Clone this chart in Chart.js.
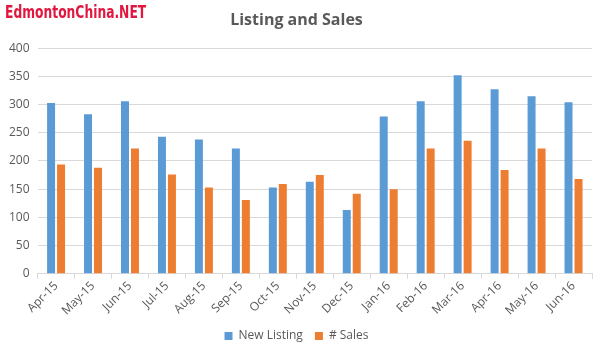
<!DOCTYPE html>
<html>
<head>
<meta charset="utf-8">
<script src="https://cdn.jsdelivr.net/npm/chart.js@4/dist/chart.umd.min.js"></script>
<style>
  html, body { margin: 0; padding: 0; background: #fff; }
  #wrap { width: 603px; height: 354px; position: relative; }
</style>
</head>
<body>
<div id="wrap"><canvas id="chart"></canvas></div>
<script>
// months on the x axis
var months = [
  "Apr-15", "May-15", "Jun-15", "Jul-15", "Aug-15", "Sep-15", "Oct-15",
  "Nov-15", "Dec-15", "Jan-16", "Feb-16", "Mar-16", "Apr-16", "May-16", "Jun-16",
];
// values
var newListing = [303, 283, 306, 243, 238, 222, 153, 163, 113, 279, 306, 352, 327, 315, 304];
var sales = [194, 188, 222, 176, 153, 131, 159, 175, 142, 150, 222, 236, 184, 222, 168];

var yTicks = [0, 50, 100, 150, 200, 250, 300, 350, 400];

// red site name in the corner
var watermark = {
  id: "watermark",
  afterDraw: function (chart) {
    var ctx = chart.ctx;
    ctx.save();
    ctx.font = "bold 18px 'DejaVu Sans Condensed', 'Liberation Sans Narrow', sans-serif";
    ctx.fillStyle = "#e0173f";
    ctx.textBaseline = "top";
    ctx.translate(5, 4);
    ctx.scale(0.76, 1);
    ctx.fillText("EdmontonChina.NET", 0, 0);
    ctx.restore();
  },
};

var ctx = document.getElementById("chart");
new Chart(ctx, {
  type: "bar",
  data: {
    labels: months,
    datasets: [
      {
        label: "New Listing",
        data: newListing,
        backgroundColor: "#5b9bd5",
        barPercentage: 0.8,
        categoryPercentage: 0.54,
      },
      {
        label: "# Sales",
        data: sales,
        backgroundColor: "#ed7d31",
        barPercentage: 0.8,
        categoryPercentage: 0.54,
      },
    ],
  },
  options: {
    responsive: true,
    maintainAspectRatio: false,
    animation: false,
    layout: {
      padding: { left: 1, right: 11, top: 0, bottom: 2 },
    },
    plugins: {
      title: {
        display: true,
        text: "Listing and Sales",
        color: "#595959",
        font: { family: "'Open Sans', sans-serif", size: 16, weight: "bold" },
        padding: { top: 11, bottom: 18 },
      },
      legend: {
        display: true,
        position: "bottom",
        labels: {
          boxWidth: 8,
          boxHeight: 8,
          color: "#595959",
          font: { family: "'Open Sans', sans-serif", size: 12 },
          padding: 12,
        },
      },
      tooltip: { enabled: false },
    },
    scales: {
      x: {
        afterFit: function (axis) {
          axis.paddingLeft = 0;
          axis.paddingRight = 0;
        },
        grid: {
          display: true,
          drawOnChartArea: false,
          tickLength: 5,
          color: "#d9d9d9",
        },
        border: { color: "#d9d9d9" },
        ticks: {
          color: "#595959",
          font: { family: "'Open Sans', sans-serif", size: 12 },
          maxRotation: 45,
          minRotation: 45,
          autoSkip: false,
          padding: 0,
        },
      },
      y: {
        min: 0,
        max: 400,
        afterBuildTicks: function (axis) {
          axis.ticks = yTicks.map(function (v) { return { value: v }; });
        },
        grid: { color: "#d9d9d9", drawTicks: false },
        border: { display: false },
        ticks: {
          color: "#595959",
          font: { family: "'Open Sans', sans-serif", size: 12 },
          padding: 8,
        },
      },
    },
  },
  plugins: [watermark],
});
</script>
</body>
</html>
